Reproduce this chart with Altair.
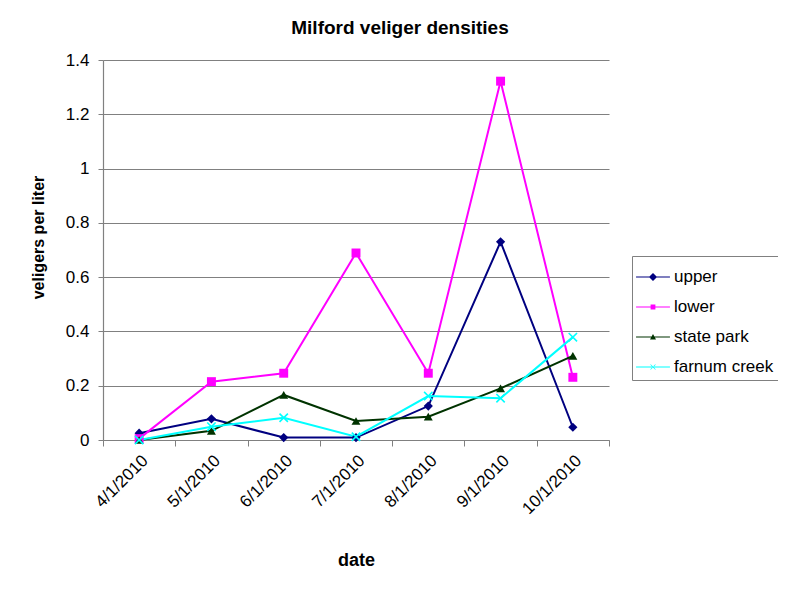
import altair as alt
import pandas as pd

dates = ["4/1/2010", "5/1/2010", "6/1/2010", "7/1/2010", "8/1/2010", "9/1/2010", "10/1/2010"]
series_names = ["upper", "lower", "state park", "farnum creek"]
upper = [0.025, 0.078, 0.009, 0.009, 0.125, 0.730, 0.047]
lower = [0.005, 0.215, 0.246, 0.689, 0.246, 1.322, 0.231]
state_park = [0.000, 0.034, 0.166, 0.070, 0.086, 0.190, 0.310]
farnum_creek = [0.000, 0.049, 0.082, 0.012, 0.162, 0.154, 0.379]
colors = ["#000080", "#FF00FF", "#003300", "#00FFFF"]
y_ticks = [0, 0.2, 0.4, 0.6, 0.8, 1.0, 1.2, 1.4]

rows = []
for name, vals in zip(series_names, [upper, lower, state_park, farnum_creek]):
    for d, v in zip(dates, vals):
        rows.append({"date": d, "series": name, "value": v})
df = pd.DataFrame(rows)

FONT = "Liberation Sans"

x = alt.X(
    "date:O", sort=dates,
    scale=alt.Scale(type="band", paddingInner=0, paddingOuter=0),
    axis=alt.Axis(title="date", labelAngle=-45, tickBand="extent", grid=False,
                  tickSize=6, labelPadding=6, titlePadding=35),
)
y = alt.Y(
    "value:Q",
    scale=alt.Scale(domain=[0, 1.4], nice=False),
    axis=alt.Axis(title="veligers per liter", values=y_ticks, format="~g", grid=True,
                  tickSize=5, labelPadding=9, titlePadding=19, titleY=177,
                  titleFontSize=16),
)

base = alt.Chart(df).encode(x=x, y=y)

xpath = "M-1,-1L1,1M-1,1L1,-1"
marker_shapes = ["diamond", "square", "triangle-up", xpath]
marker_sizes = [85, 80, 80, 70]
marker_filled = [True, True, True, False]

layers = []
for name, col in zip(series_names, colors):
    layers.append(
        base.transform_filter(alt.datum.series == name).mark_line(strokeWidth=2, color=col)
    )
for name, col, shp, sz, fl in zip(series_names, colors, marker_shapes, marker_sizes, marker_filled):
    layers.append(
        base.transform_filter(alt.datum.series == name).mark_point(
            shape=shp, filled=fl, size=sz, color=col, opacity=1, strokeWidth=1.6
        )
    )

bar = "M-1.13,-0.035L1.13,-0.035L1.13,0.035L-1.13,0.035Z"
legend_paths = [
    bar + "M0,-0.27L0.27,0L0,0.27L-0.27,0Z",
    bar + "M-0.16,-0.16L0.16,-0.16L0.16,0.16L-0.16,0.16Z",
    bar + "M0,-0.2L0.2,0.16L-0.2,0.16Z",
    bar + "M-0.18,-0.15L-0.15,-0.18L0.18,0.15L0.15,0.18Z"
          "M-0.18,0.15L-0.15,0.18L0.18,-0.15L0.15,-0.18Z",
]
leg = alt.Legend(title=None, orient="none", legendX=529, legendY=196)
legend_layer = base.transform_filter("datum.value > 100").mark_point(
    filled=True, size=900, opacity=1
).encode(
    color=alt.Color("series:N", scale=alt.Scale(domain=series_names, range=colors), legend=leg),
    shape=alt.Shape("series:N", scale=alt.Scale(domain=series_names, range=legend_paths), legend=leg),
)
layers.append(legend_layer)

chart = alt.layer(*layers).properties(
    width=506,
    height=380,
    padding={"left": 95, "top": 52, "right": 169, "bottom": 141},
    autosize=alt.AutoSizeParams(type="none"),
    title=alt.TitleParams("Milford veliger densities", font=FONT, fontSize=19, fontWeight="bold",
                          anchor="middle", frame="group", dx=44, offset=13, color="black"),
    background="white",
).configure_view(stroke=None).configure_axis(
    labelFont=FONT, labelFontSize=17, labelColor="black",
    titleFont=FONT, titleFontSize=18, titleFontWeight="bold", titleColor="black",
    domainColor="#808080", tickColor="#808080", gridColor="#808080", gridWidth=1.2,
    domainWidth=1.2,
).configure_legend(
    labelFont=FONT, labelFontSize=17, labelColor="black",
    strokeColor="#808080", padding=5, rowPadding=6, symbolSize=900,
    labelOffset=5, fillColor="white", symbolOpacity=1,
)

chart.save("out.html", embed_options={"renderer": "svg", "actions": False})
